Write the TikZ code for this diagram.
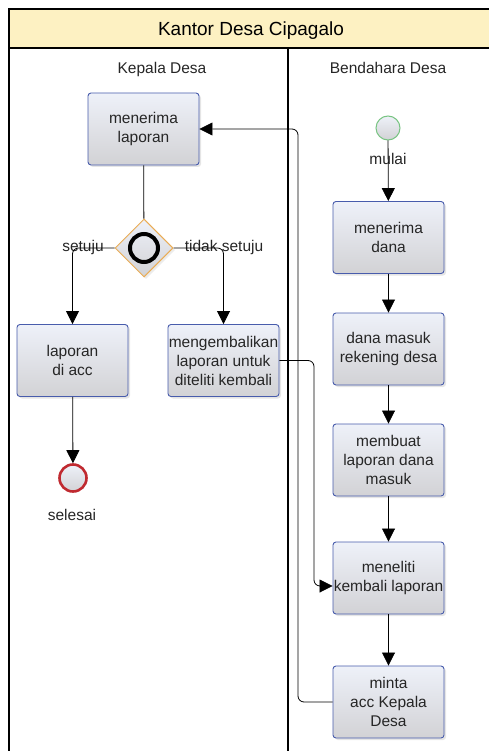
\documentclass[tikz,border=0pt]{standalone}
\usepackage{fontspec}
\setmainfont{Liberation Sans}
\usetikzlibrary{arrows.meta,shapes.geometric,shadows}
\definecolor{laneyellow}{RGB}{253,241,194}
\definecolor{boxblue}{RGB}{72,92,172}
\definecolor{gworange}{RGB}{234,172,84}
\definecolor{startgreen}{RGB}{120,196,130}
\definecolor{endred}{RGB}{192,42,48}
\definecolor{gray1}{RGB}{238,241,249}
\definecolor{gray2}{RGB}{210,210,213}
\tikzset{
  task/.style={rectangle,rounded corners=3pt,draw=boxblue,line width=0.9pt,
    top color=gray1,bottom color=gray2,minimum width=111pt,minimum height=72pt,
    inner sep=0pt,align=center,font=\fontsize{15.5}{19}\selectfont,text=black!85,
    drop shadow={opacity=0.2,shadow xshift=2pt,shadow yshift=-2pt}},
  flow/.style={-{Triangle[length=13pt,width=13pt]},line width=0.8pt,rounded corners=6pt},
  lbl/.style={font=\fontsize{15.5}{18}\selectfont,text=black!85},
}

\begin{document}
\begin{tikzpicture}[x=1pt,y=-1pt]
\clip (0,0) rectangle (489,751);
\fill[white] (0,0) rectangle (489,751);
%
% pool and lanes
\fill[laneyellow] (9,9) rectangle (500,48);
\draw[line width=1.1pt] (9,760) -- (9,9) -- (500,9);
\draw[line width=1.1pt] (9,48) -- (500,48);
\draw[line width=1.1pt] (288,48) -- (288,760);
\node[font=\fontsize{19}{21}\selectfont] (pool) at (251,31) {Kantor Desa Cipagalo};
\node[lbl] (lane1) at (162,69) {Kepala Desa};
\node[lbl] (lane2) at (388,68) {Bendahara Desa};
%
% Kepala Desa
\node[task] (terima) at (143.5,129) {menerima\\laporan};
\node[diamond,aspect=1,minimum size=58pt,inner sep=0pt,draw=gworange,line width=1pt,
  top color=gray1,bottom color=gray2,
  drop shadow={opacity=0.15,shadow xshift=2pt,shadow yshift=-2pt}] (gw) at (144,248) {};
\node[circle,draw,line width=4pt,minimum size=28pt,inner sep=0pt] (gwring) at (gw) {};
\node[task] (acc) at (72.5,360.5) {laporan\\di acc};
\node[task] (kembali) at (223.5,360.5) {mengembalikan\\laporan untuk\\diteliti kembali};
\node[circle,draw=endred,line width=2.6pt,minimum size=27pt,inner sep=0pt,
  top color=gray1,bottom color=gray2] (selesai) at (73,478) {};
\node[lbl] (lselesai) at (72,515) {selesai};
\node[lbl] (lsetuju) at (83,247) {setuju};
\node[lbl] (ltidak) at (224,247) {tidak setuju};
%
% Bendahara Desa
\node[circle,draw=startgreen,line width=1pt,minimum size=24pt,inner sep=0pt,
  top color=gray1,bottom color=gray2] (mulai) at (388,128) {};
\node[lbl] (lmulai) at (388,159) {mulai};
\node[task] (dana) at (388.5,237.5) {menerima\\dana};
\node[task] (masuk) at (388.5,349) {dana masuk\\rekening desa};
\node[task] (buat) at (388.5,460) {membuat\\laporan dana\\masuk};
\node[task] (teliti) at (388.5,578) {meneliti\\kembali laporan};
\node[task] (minta) at (388.5,702) {minta\\acc Kepala\\Desa};
%
\coordinate (bend1) at (298,129);
\coordinate (bend2) at (314,0);
%
% connectors
\draw[flow] (mulai) -- (dana);
\draw[flow] (dana) -- (masuk);
\draw[flow] (masuk) -- (buat);
\draw[flow] (buat) -- (teliti);
\draw[flow] (teliti) -- (minta);
\draw[flow] (minta.west) -| (bend1) -- (terima.east);
\draw[line width=0.8pt] (terima) -- (gw);
\draw[flow] (gw.west) -| (acc.north);
\draw[flow] (gw.east) -| (kembali.north);
\draw[flow] (acc) -- (selesai);
\draw[flow] (kembali.east) -- (kembali.east -| bend2) |- ([yshift=-8pt]teliti.west);
\end{tikzpicture}
\end{document}
